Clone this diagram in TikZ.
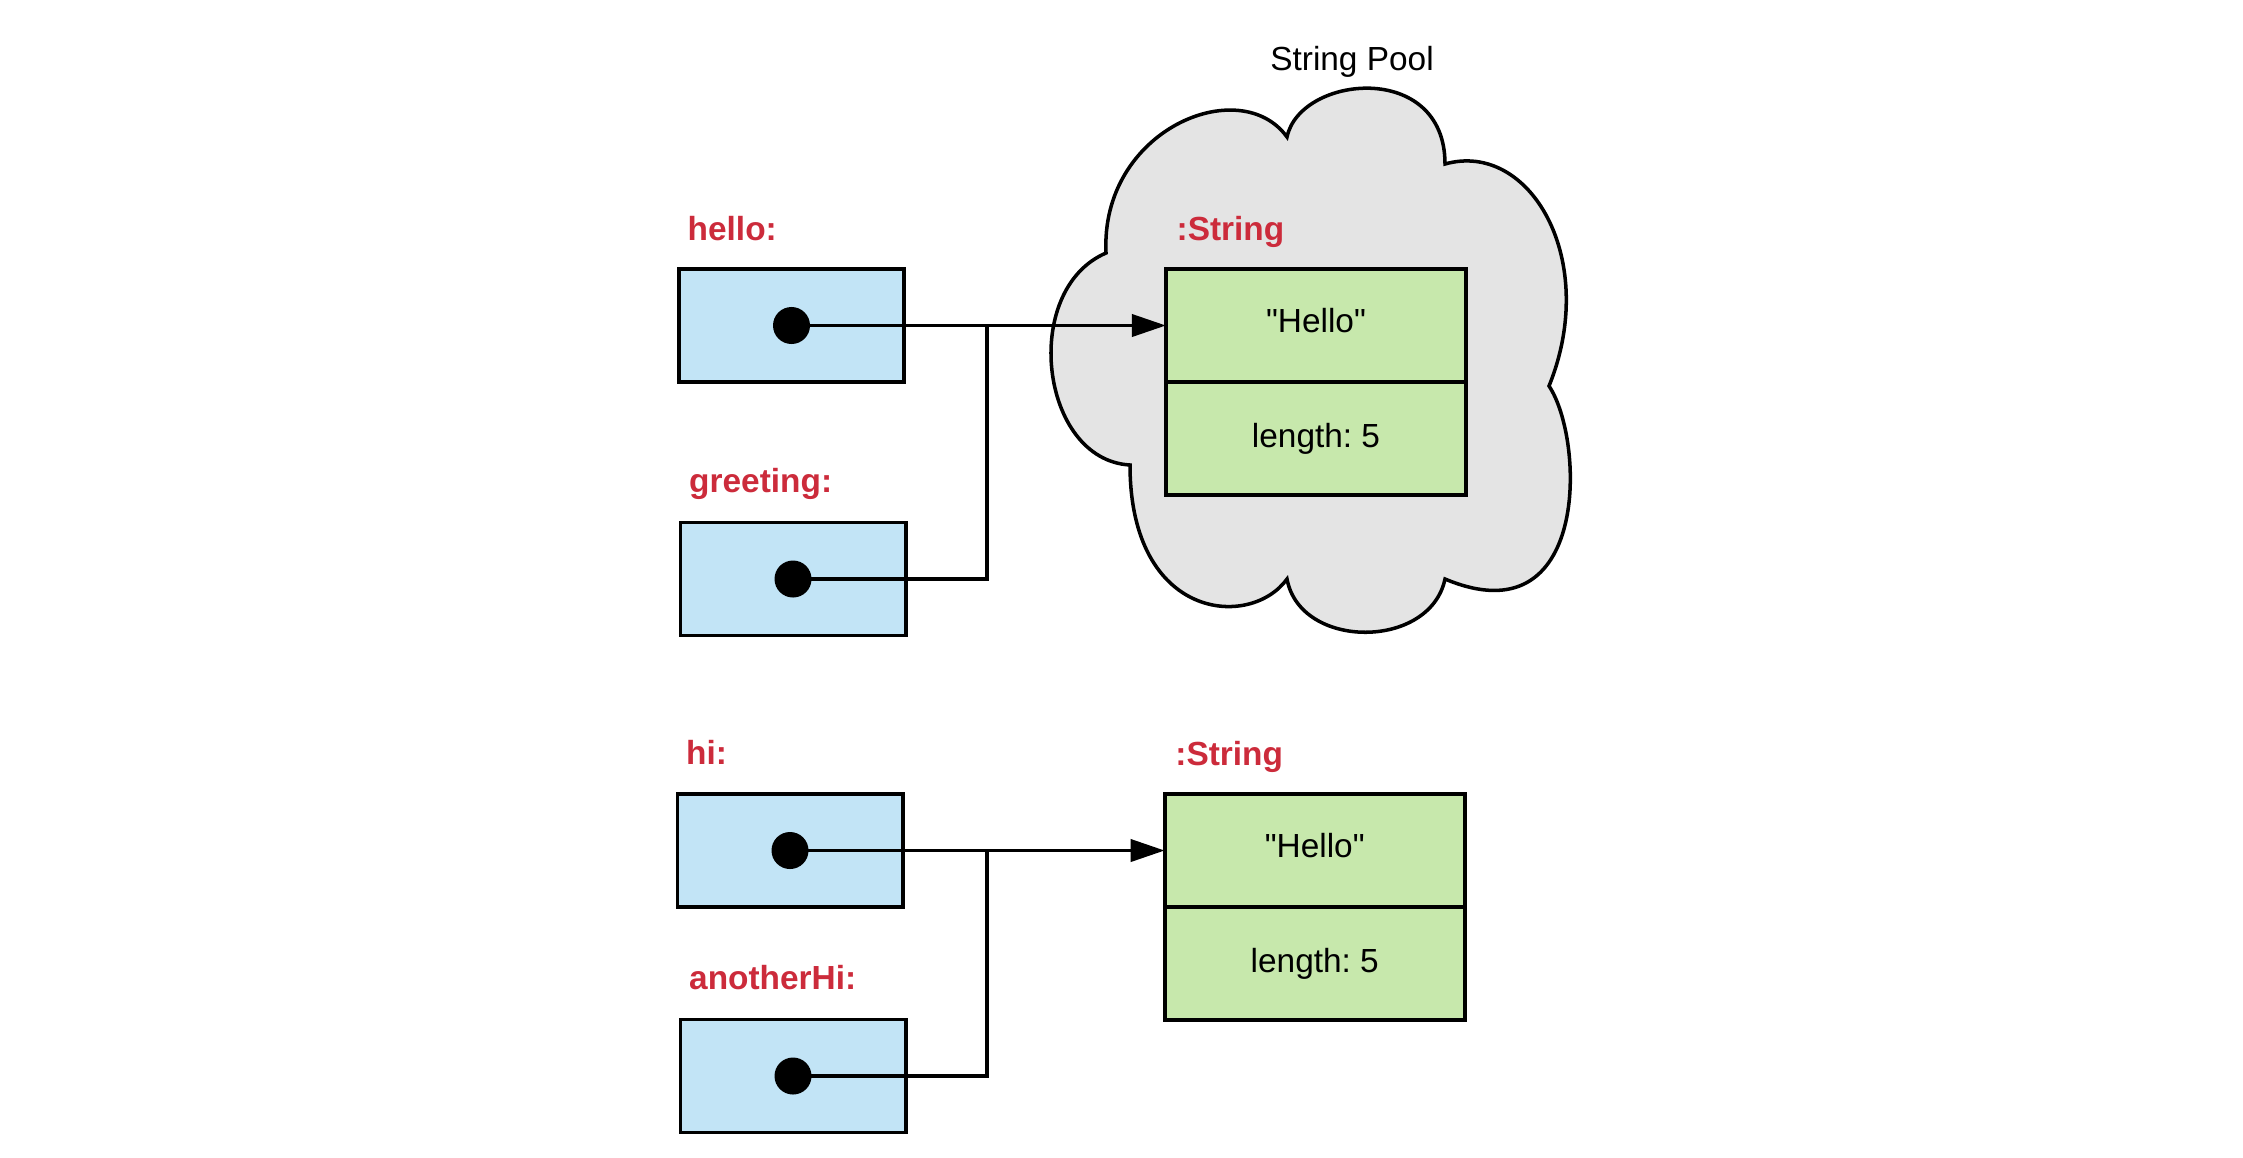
\documentclass[tikz,border=0pt]{standalone}
\usepackage{fontspec}
\setmainfont{Liberation Sans}
\usepackage{tikz}
\usetikzlibrary{positioning,arrows.meta,calc}
\definecolor{ink}{HTML}{000000}
\definecolor{varBlue}{HTML}{C2E4F6}
\definecolor{strGreen}{HTML}{C7E8AC}
\definecolor{poolGray}{HTML}{E4E4E4}
\definecolor{lblRed}{HTML}{CC2B3B}
\frenchspacing
\tikzset{
  txt/.style={font=\fontsize{9.5}{11.4}\selectfont, text=ink},
  var/.style={draw=ink, fill=varBlue, line width=1.1pt, minimum width=2.25cm, minimum height=1.13cm, inner sep=0pt},
  cell/.style={draw=ink, fill=strGreen, line width=1.1pt, minimum width=3cm, minimum height=1.13cm, inner sep=0pt, outer sep=0pt, txt},
  ptr/.style={circle, fill=ink, minimum size=0.37cm, inner sep=0pt},
  lbl/.style={font=\fontsize{9.5}{11.4}\selectfont\bfseries, text=lblRed, anchor=base west, inner sep=0pt},
  wire/.style={ink, line width=1.1pt},
  ref/.style={wire, -{Triangle[length=0.34cm, width=0.22cm]}},
}

\begin{document}
\begin{tikzpicture}[x=0.01cm, y=-0.01cm]
\useasboundingbox (0,0) rectangle (2243,1157);
% the pool
\path[fill=poolGray, draw=ink, line width=1pt] (1106,253)
  .. controls (1100,130) and (1240,72) .. (1287,137)
  .. controls (1300,75) and (1445,60) .. (1445,164)
  .. controls (1530,140) and (1600,260) .. (1549,386)
  .. controls (1585,440) and (1590,640) .. (1445,579)
  .. controls (1430,650) and (1300,650) .. (1287,579)
  .. controls (1250,630) and (1130,620) .. (1130,465)
  .. controls (1040,460) and (1020,290) .. (1106,253) -- cycle;
\node[txt, anchor=base] (poolLbl) at (1352,70) {String Pool};

% variables
\node[var] (hello) at (791.5,325.5) {};
\node[var] (greeting) at (793,579) {};
\node[var] (hi) at (790,850.5) {};
\node[var] (anotherHi) at (793,1076) {};
\node[lbl] (helloLbl) at ([shift={(10,-27)}]hello.north west) {hello:};
\node[lbl] (greetingLbl) at ([shift={(10,-28)}]greeting.north west) {greeting:};
\node[lbl] (hiLbl) at ([shift={(10,-28)}]hi.north west) {hi:};
\node[lbl] (anotherHiLbl) at ([shift={(10,-28)}]anotherHi.north west) {anotherHi:};

% strings
\node[cell] (poolStr) at (1316,325.5) {\raisebox{3pt}{\textquotedbl Hello\textquotedbl}};
\node[cell, below=0pt of poolStr] (poolLen) {length: 5};
\node[lbl] (poolStrLbl) at ([shift={(10,-28)}]poolStr.north west) {:String};
\node[cell] (newStr) at (1314.75,850.5) {\raisebox{3pt}{\textquotedbl Hello\textquotedbl}};
\node[cell, below=0pt of newStr] (newLen) {length: 5};
\node[lbl] (newStrLbl) at ([shift={(10,-28)}]newStr.north west) {:String};

% references
\coordinate (helloJoin) at (987,325.5);
\coordinate (hiJoin) at (987,850.5);
\node[ptr] (helloPtr) at (hello.center) {};
\node[ptr] (greetingPtr) at (greeting.center) {};
\node[ptr] (hiPtr) at (hi.center) {};
\node[ptr] (anotherHiPtr) at (anotherHi.center) {};
\draw[ref] (helloPtr.center) -- (poolStr.west);
\draw[wire] (greetingPtr.center) -| (helloJoin);
\draw[ref] (hiPtr.center) -- (newStr.west);
\draw[wire] (anotherHiPtr.center) -| (hiJoin);
\end{tikzpicture}
\end{document}
